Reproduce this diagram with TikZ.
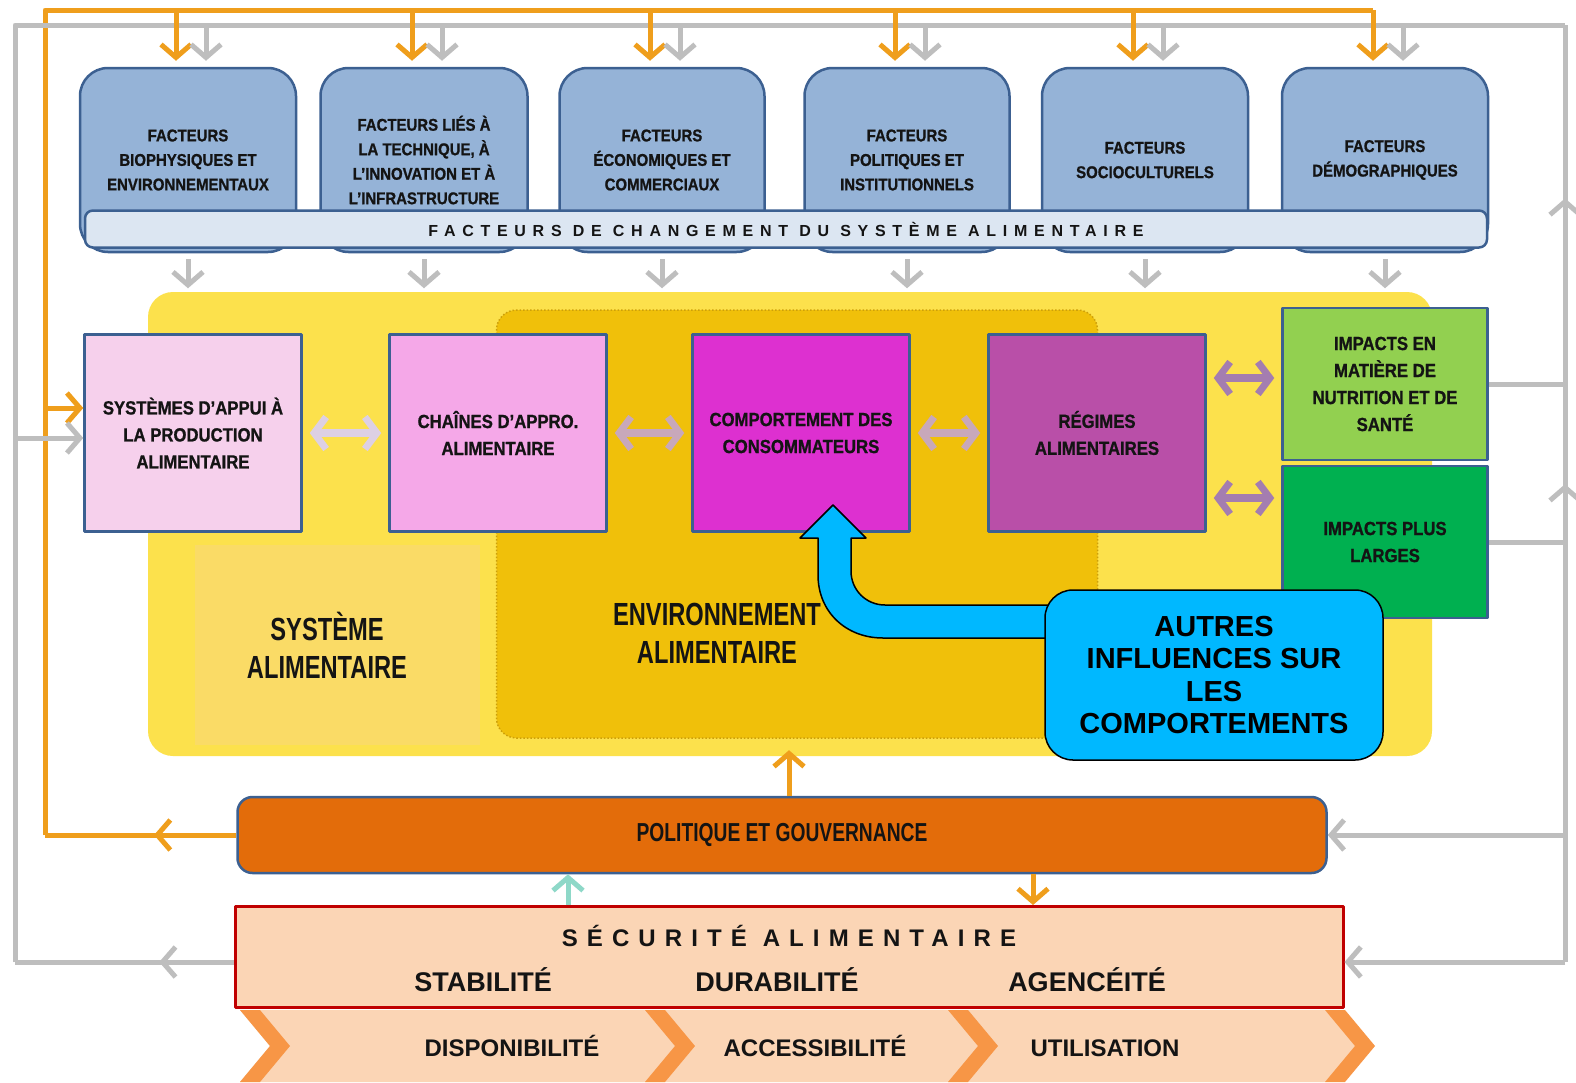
\documentclass[tikz,border=0pt]{standalone}
\usepackage{fontspec}
\setmainfont{Liberation Sans}
\newfontfamily\narrowfont[FakeStretch=0.88,FakeBold=1]{Liberation Sans Bold}
\newfontfamily\condfont[FakeStretch=0.74]{Liberation Sans Bold}
\newfontfamily\spacedfont[LetterSpace=38]{Liberation Sans Bold}
\newfontfamily\widespaced[LetterSpace=42]{Liberation Sans Bold}
\usetikzlibrary{arrows.meta,decorations.markings,backgrounds}

\definecolor{lineorange}{RGB}{239,158,28}
\definecolor{linegray}{RGB}{190,190,190}
\definecolor{boxblue}{RGB}{60,96,145}
\definecolor{factorfill}{RGB}{149,179,215}
\definecolor{factorshade}{RGB}{163,190,230}
\definecolor{barfill}{RGB}{220,230,242}
\definecolor{sysyellow}{RGB}{252,225,76}
\definecolor{syslight}{RGB}{250,219,102}
\definecolor{envgold}{RGB}{240,192,10}
\definecolor{envedge}{RGB}{205,160,10}
\definecolor{appuifill}{RGB}{246,208,236}
\definecolor{chainefill}{RGB}{245,168,232}
\definecolor{compfill}{RGB}{221,48,208}
\definecolor{regimefill}{RGB}{185,79,168}
\definecolor{nutrifill}{RGB}{146,208,80}
\definecolor{largefill}{RGB}{0,176,80}
\definecolor{calloutblue}{RGB}{0,184,255}
\definecolor{polfill}{RGB}{227,108,10}
\definecolor{secufill}{RGB}{251,213,181}
\definecolor{secuedge}{RGB}{192,0,0}
\definecolor{chevorange}{RGB}{247,150,70}
\definecolor{tealarrow}{RGB}{142,216,200}
\definecolor{dblA}{RGB}{221,208,228}
\definecolor{dblB}{RGB}{200,168,186}
\definecolor{dblC}{RGB}{164,125,176}
\definecolor{txt}{RGB}{20,20,20}

\begin{document}
\begin{tikzpicture}[x=1pt,y=-1pt,line join=round,>={Straight Barb[length=13pt,width=30pt,line width=5pt]}]
	\tikzset{
		oline/.style={lineorange,line width=5pt},
		gline/.style={linegray,line width=5pt},
		midarrow/.style={postaction={decorate},decoration={markings,mark=at position #1 with {\arrow{>}}}},
		factorbox/.style={draw=boxblue,line width=2.5pt,fill=factorfill,rounded corners=28pt,minimum height=184pt,align=center,text=txt,font=\narrowfont\fontsize{17}{24.5}\selectfont},
		midbox/.style={draw=boxblue,line width=2.5pt,minimum width=217pt,minimum height=197pt,align=center,text=txt,inner sep=2pt,font=\narrowfont\fontsize{19}{27}\selectfont},
		impactbox/.style={midbox,minimum width=205pt,minimum height=152pt},
		biglabel/.style={align=center,text=txt,font=\condfont\fontsize{32}{38}\selectfont},
		dbl/.style={line width=8pt,{Straight Barb[length=12pt,width=32pt,line width=7pt]}-{Straight Barb[length=12pt,width=32pt,line width=7pt]},shorten <=7pt,shorten >=7pt},
		secutext/.style={text=txt,font=\bfseries\fontsize{27}{27}\selectfont},
		chevtext/.style={anchor=base,text=txt,font=\bfseries\fontsize{24}{24}\selectfont}
	}
	\useasboundingbox (0,0) rectangle (1576,1082);
	\fill[white] (0,0) rectangle (1576,1082);
	
	\foreach \i/\cx/\w/\lbl in {1/188/216/{FACTEURS\\BIOPHYSIQUES ET\\ENVIRONNEMENTAUX},
		2/424/207/{FACTEURS LIÉS À\\LA TECHNIQUE, À\\L’INNOVATION ET À\\L’INFRASTRUCTURE},
		3/662/205/{FACTEURS\\ÉCONOMIQUES ET\\COMMERCIAUX},
		4/907/205/{FACTEURS\\POLITIQUES ET\\INSTITUTIONNELS},
		5/1145/206/{FACTEURS\\SOCIOCULTURELS},
		6/1385/206/{FACTEURS\\DÉMOGRAPHIQUES}}
	\node[factorbox,minimum width=\w pt] (f\i) at (\cx,160) {\lbl};
	\begin{scope}[on background layer]
		\foreach \i in {1,...,6}
		\fill[factorshade] ([xshift=6pt,yshift=2pt]f\i.north west) rectangle ([xshift=-6pt,yshift=30pt]f\i.south east);
	\end{scope}
	\node[draw=boxblue,line width=2.5pt,fill=barfill,rounded corners=8pt,minimum width=1402pt,minimum height=37pt,text=txt,font=\widespaced\fontsize{16}{16}\selectfont] (bar) at (786,229) {FACTEURS DE CHANGEMENT DU SYSTÈME ALIMENTAIRE};
	
	\node[fill=sysyellow,rounded corners=25pt,minimum width=1284pt,minimum height=464pt] (sys) at (790,524) {};
	\node[fill=syslight,minimum width=285pt,minimum height=200pt] (syslight) at (337,645) {};
	\node[fill=envgold,draw=envedge,dotted,line width=1.5pt,rounded corners=20pt,minimum width=601pt,minimum height=428pt] (env) at (797,524) {};
	\node[biglabel] (syslbl) at (327,645) {SYSTÈME\\ALIMENTAIRE};
	\node[biglabel] (envlbl) at (717,633) {ENVIRONNEMENT\\ALIMENTAIRE};
	
	\node[midbox,fill=appuifill] (appui) at (193,433) {SYSTÈMES D’APPUI À\\LA PRODUCTION\\ALIMENTAIRE};
	\node[midbox,fill=chainefill] (chaines) at (498,433) {CHAÎNES D’APPRO.\\ALIMENTAIRE};
	\node[midbox,fill=compfill] (comport) at (801,433) {COMPORTEMENT DES\\CONSOMMATEURS};
	\node[midbox,fill=regimefill] (regimes) at (1097,433) {RÉGIMES\\ALIMENTAIRES};
	\node[impactbox,fill=nutrifill] (imp1) at (1385,384) {IMPACTS EN\\MATIÈRE DE\\NUTRITION ET DE\\SANTÉ};
	\node[impactbox,fill=largefill] (imp2) at (1385,542) {IMPACTS PLUS\\LARGES};
	
	\draw[dbl,dblA] (appui) -- (chaines);
	\draw[dbl,dblB] (chaines) -- (comport);
	\draw[dbl,dblB] (comport) -- (regimes);
	\coordinate (imp1a) at ([yshift=6pt]imp1.west);
	\coordinate (imp2a) at ([yshift=44pt]imp2.west);
	\draw[dbl,dblC] (imp1a -| regimes.east) -- (imp1a);
	\draw[dbl,dblC] (imp2a -| regimes.east) -- (imp2a);
	
	\filldraw[fill=calloutblue,draw=black,line width=1.5pt] (1055,605) -- (885,605) .. controls (866,605) and (851,590) .. (851,571) -- (851,538) -- (866,538) -- (833,505) -- (800,538) -- (818,538) -- (818,575) .. controls (818,612) and (846,638) .. (883,638) -- (1055,638);
	\node[fill=calloutblue,draw=black,line width=1.5pt,rounded corners=28pt,minimum width=338pt,minimum height=170pt,align=center,text=black,font=\bfseries\fontsize{29}{32.5}\selectfont] (autres) at (1214,675) {AUTRES\\INFLUENCES SUR\\LES\\COMPORTEMENTS};
	
	\node[draw=boxblue,line width=2.5pt,fill=polfill,rounded corners=15pt,minimum width=1089pt,minimum height=76pt,text=txt,font=\condfont\fontsize{26}{26}\selectfont] (pol) at (782,835) {POLITIQUE ET GOUVERNANCE};
	\node[draw=secuedge,line width=3pt,fill=secufill,minimum width=1108pt,minimum height=101pt] (secu) at (789,957) {};
	\node[text=txt,font=\spacedfont\fontsize{24}{24}\selectfont] (secutitle) at (789,936) {SÉCURITÉ ALIMENTAIRE};
	\node[secutext] (stab) at (483,980) {STABILITÉ};
	\node[secutext] (dura) at (777,980) {DURABILITÉ};
	\node[secutext] (agen) at (1087,980) {AGENCÉITÉ};
	
	\fill[secufill] (240,1010) -- (1325,1010) -- (1360,1046) -- (1325,1082) -- (240,1082) -- (270,1046) -- cycle;
	\foreach \cx in {240,645,948,1325}
	\fill[chevorange] (\cx,1010) -- (\cx+20,1010) -- (\cx+50,1046) -- (\cx+20,1082) -- (\cx,1082) -- (\cx+30,1046) -- cycle;
	\node[chevtext] (dispo) at (512,1056) {DISPONIBILITÉ};
	\node[chevtext] (acces) at (815,1056) {ACCESSIBILITÉ};
	\node[chevtext] (util) at (1105,1056) {UTILISATION};
	
	\coordinate (oTL) at (45,10);
	\coordinate (oBL) at (oTL |- pol.west);
	\coordinate (gTL) at (15,25);
	\coordinate (gTR) at (1565,25);
	\coordinate (gBL) at (15,962);
	\coordinate (gBR) at (1565,962);
	\coordinate (secuW) at ([yshift=-5pt]secu.west);
	\coordinate (secuE) at ([yshift=-5pt]secu.east);
	\coordinate (appuiO) at ([yshift=25pt]appui.west);
	\coordinate (appuiG) at ([yshift=-5pt]appui.west);
	\foreach \i in {1,...,6}{
		\coordinate (od\i) at ([xshift=-12pt,yshift=6pt]f\i.north);
		\coordinate (gd\i) at ([xshift=18pt,yshift=6pt]f\i.north);
	}
	\coordinate (oTR) at (od6 |- oTL);
	
	\draw[oline,midarrow=0.43] (pol.west) -- (oBL);
	\draw[oline] (oBL) -- (oTL) -- (oTR);
	\draw[oline,->] (oTL |- appuiO) -- (appuiO);
	\draw[gline,midarrow=0.34] (secuW) -- (gBL |- secuW);
	\draw[gline] (gBL |- secuW) -- (gTL) -- (gTR);
	\draw[gline,->] (gTL |- appuiG) -- (appuiG);
	\draw[gline,postaction={decorate},decoration={markings,mark=at position 0.51 with {\arrow{>}},mark=at position 0.815 with {\arrow{>}}}] (gBR) -- (gTR);
	\draw[gline] (imp1.east) -- (imp1.east -| gTR);
	\draw[gline] (imp2.east) -- (imp2.east -| gTR);
	\draw[gline,->] (pol.east -| gTR) -- (pol.east);
	\draw[gline,->] (secuE -| gTR) -- (secuE);
	
	\foreach \i in {1,...,6}{
		\draw[oline,->] (od\i |- oTL) -- (od\i);
		\draw[gline,->] (gd\i |- gTL) -- (gd\i);
		\draw[gline,->] ([yshift=-6pt]f\i.south) -- ([yshift=-35pt]f\i.south);
	}
	
	\coordinate (polup) at ([xshift=7pt]pol.north);
	\coordinate (polin) at ([xshift=-214pt]pol.south);
	\coordinate (poldown) at ([xshift=251pt]pol.south);
	\draw[oline,->] (polup) -- ([yshift=6pt]polup |- sys.south);
	\draw[tealarrow,line width=5pt,->] (polin |- secu.north) -- (polin);
	\draw[oline,->] (poldown) -- (poldown |- secu.north);
\end{tikzpicture}
\end{document}
